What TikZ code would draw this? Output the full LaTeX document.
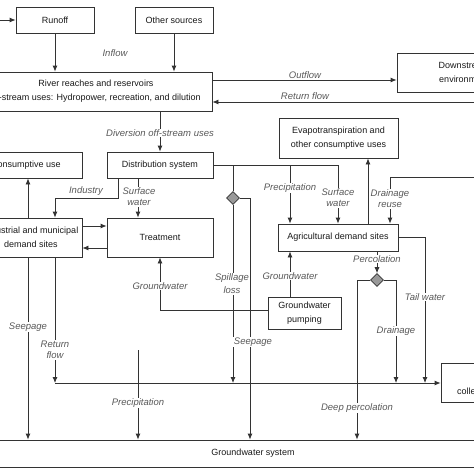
\documentclass[tikz,border=0pt]{standalone}
\usepackage{fontspec}
\setmainfont{Liberation Sans}
\usepackage{tikz}
\usetikzlibrary{
  arrows.meta,
  shapes.geometric}

\definecolor{linegray}{gray}{0.2}

\begin{document}
\begin{tikzpicture}[x=1pt,y=-1pt]
\tikzset{
  box/.style={
    draw=linegray,
    line width=0.8pt,
    align=center,
    inner sep=0pt,
    text=black!90,
    font=\fontsize{9}{14}\selectfont},
  wire/.style={
    draw=linegray,
    line width=0.8pt},
  flow/.style={
    wire,
    -{Latex[length=6pt,width=5pt]}},
  lbl/.style={
    font=\fontsize{9.5}{11}\selectfont\itshape,
    text=black!65,
    align=center,
    inner sep=1pt,
    fill=white},
  valve/.style={
    diamond,
    draw=linegray,
    fill=black!40,
    line width=0.6pt,
    minimum size=13pt,
    inner sep=0pt},
}

\useasboundingbox (0,0) rectangle (474,474);
\clip (0,0) rectangle (474,474);

% boxes
\node[box, minimum width=78pt, minimum height=26pt] (runoff) at (55,20) {Runoff};
\node[box, minimum width=78pt, minimum height=26pt] (other) at (174,20) {Other sources};
\node[box, minimum width=232pt, minimum height=39pt] (river) at (96,91.5)
  {River reaches and reservoirs\\In-stream uses: Hydropower, recreation, and dilution};
\node[box, minimum width=134pt, minimum height=39pt] (downstream) at (464,72.5)
  {Downstream\\environment};
\node[box, minimum width=119pt, minimum height=40pt] (evapo) at (338.5,138)
  {Evapotranspiration and\\other consumptive uses};
\node[box, minimum width=112pt, minimum height=26pt] (consumptive) at (26,165) {Consumptive use};
\node[box, minimum width=106pt, minimum height=26pt] (distribution) at (160,165) {Distribution system};
\node[box, minimum width=102pt, minimum height=39pt] (industrial) at (31,237.5)
  {Industrial and municipal\\demand sites};
\node[box, minimum width=106pt, minimum height=39pt] (treatment) at (160,237.5) {Treatment};
\node[box, minimum width=120pt, minimum height=27pt] (agri) at (338,237.5) {Agricultural demand sites};
\node[box, minimum width=73pt, minimum height=32pt] (pumping) at (304.5,313)
  {Groundwater\\pumping};
\node[box, minimum width=88pt, minimum height=39pt] (collect) at (485,382.5) {};
\node[box, draw=none] (collecttxt) at (476,391) {collection};
\node[box, minimum width=540pt, minimum height=27pt] (gws) at (253,453.5) {Groundwater system};

\node[valve] (spill) at (233,198) {};
\node[valve] (perc) at (377,280) {};

% free ends
\coordinate (rainin) at (-5,20);
\coordinate (retin) at (480,102);
\coordinate (drin) at (480,177);
\coordinate (indbend) at (55,198);
\coordinate (precip) at (290,165);
\coordinate (seepbend) at (250,198);
\coordinate (retl) at (55,383);
\coordinate (tail) at (425,383);
\coordinate (drainb) at (396,383);
\coordinate (rainb) at (138,350);

% top
\draw[flow] (rainin) -- (runoff.west);
\draw[flow] (runoff.south) -- (runoff.south |- river.north);
\draw[flow] (other.south) -- (other.south |- river.north);
\draw[flow] ([yshift=11.5pt]river.east) -- ([yshift=11.5pt]river.east -| downstream.west);
\draw[flow] (retin) -- (retin -| river.east);
\draw[flow] (river.south -| distribution.north) -- (distribution.north);

% industrial side
\draw[flow] ([xshift=-3pt]industrial.north) -- ([xshift=-3pt]industrial.north |- consumptive.south);
\draw[flow] ([xshift=-42pt]distribution.south) |- (indbend) -- (indbend |- industrial.north);
\draw[flow] ([xshift=-22pt]distribution.south) -- ([xshift=-22pt]distribution.south |- treatment.north);
\draw[flow] ([yshift=11.5pt]industrial.east) -- ([yshift=11.5pt]industrial.east -| treatment.west);
\draw[flow] ([yshift=-10.5pt]treatment.west) -- ([yshift=-10.5pt]treatment.west -| industrial.east);

% distribution to agriculture
\draw[flow] (distribution.east) -| (agri.north);
\draw[flow] (precip) -- (precip |- agri.north);
\draw[wire] (spill |- distribution.east) -- (spill.north);
\draw[flow] (spill.south) -- (spill |- retl);
\draw[flow] (spill.east) -- (seepbend) -- (seepbend |- gws.north);

% pumping
\draw[flow] ([yshift=3pt]pumping.west) -| (treatment.south);
\draw[flow] ([xshift=-14.5pt]pumping.north) -- ([xshift=-14.5pt]pumping.north |- agri.south);

% agriculture
\draw[flow] ([xshift=30pt]agri.north) -- ([xshift=30pt]agri.north |- evapo.south);
\draw[flow] (drin) -| ([xshift=52pt]agri.north);
\draw[flow] (agri.east) -| (tail);
\draw[flow] ([xshift=39pt]agri.south) -- (perc.north);
\draw[flow] (perc.west) -| ([xshift=104pt]gws.north);
\draw[flow] (perc.east) -| (drainb);

% bottom
\draw[flow] ([xshift=24pt]industrial.south) -- (retl);
\draw[flow] (retl) -- (retl -| collect.west);
\draw[flow] ([xshift=-3pt]industrial.south) -- ([xshift=-3pt]industrial.south |- gws.north);
\draw[flow] (rainb) -- (rainb |- gws.north);

% labels
\node[lbl, fill=none] (inflowlbl) at (115,53) {Inflow};
\node[lbl, fill=none] (outflowlbl) at (305,75) {Outflow};
\node[lbl, fill=none] (returnlbl) at (305,96) {Return flow};
\node[lbl] (diverlbl) at (160,133) {Diversion off-stream uses};
\node[lbl, fill=none] (industrylbl) at (86,191) {Industry};
\node[lbl] (surflbl) at (139,197) {Surface\\water};
\node[lbl] (preclbl) at (290,188) {Precipitation};
\node[lbl] (surf2lbl) at (338,198) {Surface\\water};
\node[lbl] (drreuselbl) at (390,199) {Drainage\\reuse};
\node[lbl] (perclbl) at (377,259) {Percolation};
\node[lbl] (gw1lbl) at (160,286) {Groundwater};
\node[lbl] (gw2lbl) at (290,276) {Groundwater};
\node[lbl, font=\fontsize{9.5}{13}\selectfont\itshape] (spilllbl) at (232,284) {Spillage\\loss};
\node[lbl] (taillbl) at (425,297) {Tail water};
\node[lbl] (drainlbl) at (396,331) {Drainage};
\node[lbl] (seep1lbl) at (28,327) {Seepage};
\node[lbl] (seep2lbl) at (253,342) {Seepage};
\node[lbl] (retflbl) at (55,350) {Return\\flow};
\node[lbl] (rainlbl) at (138,403) {Precipitation};
\node[lbl] (deeplbl) at (357,408) {Deep percolation};
\end{tikzpicture}
\end{document}
